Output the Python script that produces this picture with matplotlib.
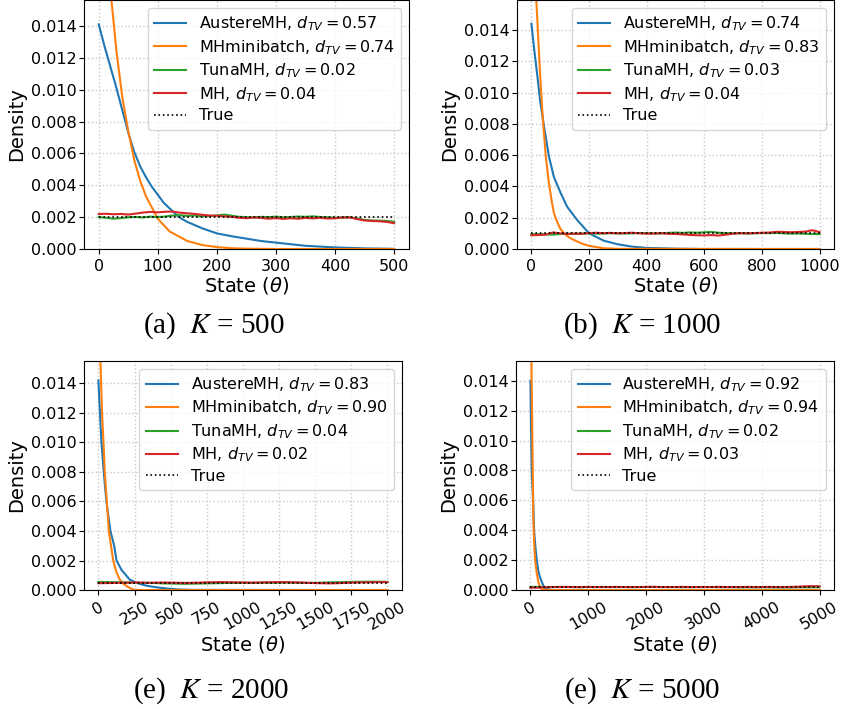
import matplotlib.pyplot as plt
import numpy as np

# method names and d_TV values for each panel
methods = ['AustereMH', 'MHminibatch', 'TunaMH', 'MH']
dtv_a = [0.57, 0.74, 0.02, 0.04]
dtv_b = [0.74, 0.83, 0.03, 0.04]
dtv_c = [0.83, 0.90, 0.04, 0.02]
dtv_d = [0.92, 0.94, 0.02, 0.03]
K_values = [500, 1000, 2000, 5000]
captions = ['(a)', '(b)', '(e)', '(e)']

# ---- K = 500 ----
austere_a_x = [0, 10, 20, 30, 40, 50, 60, 70, 80, 90, 100, 110, 120, 130, 140, 150, 175, 200,
               225, 250, 275, 300, 325, 350, 375, 400, 450, 500]
austere_a_y = [0.0141, 0.0127, 0.0114, 0.0101, 0.0087, 0.0073, 0.0061, 0.0052, 0.0045, 0.0039,
               0.0034, 0.0029, 0.00255, 0.0022, 0.0019, 0.0017, 0.0013, 0.00098, 0.0008, 0.00065,
               0.0005, 0.0004, 0.0003, 0.0002, 0.00015, 0.0001, 0.00004, 0.00001]
mhmini_a_x = [0, 10, 20, 30, 40, 50, 60, 70, 80, 90, 100, 110, 120, 130, 140, 150, 175, 200,
              225, 250, 300, 500]
mhmini_a_y = [0.026, 0.0205, 0.0162, 0.0124, 0.0095, 0.0074, 0.0056, 0.0043, 0.0033, 0.0026,
              0.0019, 0.0015, 0.0011, 0.0009, 0.0007, 0.0005, 0.00025, 0.00012, 0.00005, 0.00002,
              0.0, 0.0]
tuna_a = [20.0, 19.6, 19.0, 19.4, 19.9, 20.1, 19.8, 20.3, 20.0, 20.4, 21.0, 21.2, 20.8, 21.0,
          20.5, 20.6, 21.1, 21.6, 20.9, 20.2, 20.0, 19.8, 20.2, 20.0, 20.3, 19.9, 20.1, 20.4,
          20.2, 20.5, 20.1, 19.9, 19.6, 19.8, 19.9, 19.2, 18.2, 17.9, 17.8, 17.6, 17.1]
mh_a = [22.0, 22.1, 21.8, 22.0, 21.6, 22.2, 22.9, 23.3, 23.0, 23.4, 23.5, 22.8, 22.4, 22.0,
        21.5, 21.0, 20.9, 20.5, 20.2, 19.6, 19.3, 19.8, 19.5, 19.0, 19.4, 18.9, 19.3, 19.0,
        19.5, 19.2, 19.6, 19.1, 19.3, 19.7, 19.8, 18.8, 17.9, 17.6, 17.4, 17.0, 16.2]

# ---- K = 1000 ----
austere_b_x = [0, 10, 21, 30, 44, 61, 78, 101, 124, 159, 200, 251, 300, 350, 400, 500, 600, 1000]
austere_b_y = [0.0144, 0.0127, 0.0110, 0.0095, 0.0078, 0.0059, 0.0046, 0.0036, 0.0027, 0.00185,
               0.0010, 0.00053, 0.0003, 0.00015, 0.00007, 0.00002, 0.0, 0.0]
mhmini_b_x = [0, 10, 17, 30, 40, 50, 60, 70, 78, 90, 100, 113, 130, 147, 175, 200, 250, 300, 1000]
mhmini_b_y = [0.027, 0.0205, 0.0159, 0.0112, 0.0082, 0.0059, 0.0043, 0.0031, 0.0023, 0.0017,
              0.0013, 0.0010, 0.00075, 0.00058, 0.00035, 0.0002, 0.00005, 0.00001, 0.0]
tuna_b = [9.4, 9.5, 9.3, 9.2, 9.6, 9.8, 9.7, 9.9, 10.0, 9.8, 9.9, 10.1, 10.0, 9.9, 10.0, 10.2,
          10.1, 9.9, 10.0, 10.3, 10.5, 10.3, 10.6, 10.4, 10.7, 10.9, 10.4, 10.2, 10.0, 10.1,
          9.9, 10.0, 10.2, 10.1, 10.3, 10.0, 9.8, 9.9, 9.7, 9.6, 9.5]
mh_b = [8.8, 8.9, 9.2, 10.6, 10.0, 9.6, 9.8, 9.7, 10.2, 10.4, 10.1, 10.3, 10.0, 10.2, 10.4,
        10.0, 9.8, 9.9, 10.1, 9.7, 9.6, 9.3, 9.0, 8.8, 8.7, 8.9, 8.6, 9.2, 9.8, 10.1, 10.0,
        10.2, 10.4, 10.5, 11.0, 10.9, 10.7, 10.9, 11.1, 12.0, 10.8]

# ---- K = 2000 ----
austere_c_x = [0, 10, 21, 37, 55, 83, 109, 125, 160, 217, 275, 330, 390, 472, 550, 650, 2000]
austere_c_y = [0.0142, 0.0121, 0.0100, 0.0080, 0.0060, 0.0040, 0.0030, 0.0020, 0.00136, 0.0007,
               0.00045, 0.0003, 0.0002, 0.0001, 0.00004, 0.00001, 0.0]
mhmini_c_x = [0, 14, 25, 35, 44, 58, 72, 87, 102, 125, 148, 175, 206, 230, 250, 300, 2000]
mhmini_c_y = [0.024, 0.0155, 0.0120, 0.0100, 0.0080, 0.0060, 0.0040, 0.0030, 0.0020, 0.0012,
              0.0007, 0.0004, 0.0002, 0.00008, 0.00002, 0.0, 0.0]
tuna_c = [55, 54, 53, 52, 51, 50, 49, 48, 47, 45, 44, 43, 42, 43, 44, 45, 46, 47, 48, 48, 49,
          48, 49, 50, 49, 50, 51, 50, 49, 48, 49, 50, 52, 53, 54, 55, 56, 56, 57, 56, 55]
mh_c = [46, 47, 48, 49, 50, 51, 50, 49, 50, 51, 50, 49, 48, 49, 50, 52, 53, 54, 53, 52, 51,
        50, 51, 52, 53, 54, 53, 52, 51, 49, 47, 46, 45, 46, 48, 50, 51, 52, 53, 54, 53]

# ---- K = 5000 ----
austere_d_x = [0, 10, 22, 45, 63, 85, 109, 135, 161, 200, 236, 300, 400, 5000]
austere_d_y = [0.0140, 0.0110, 0.0080, 0.0060, 0.0040, 0.0029, 0.0020, 0.0013, 0.0009, 0.0005,
               0.0002, 0.00003, 0.0, 0.0]
mhmini_d_x = [0, 17, 30, 45, 52, 65, 80, 110, 138, 170, 195, 250, 5000]
mhmini_d_y = [0.024, 0.0153, 0.0110, 0.0065, 0.0045, 0.0030, 0.0020, 0.0011, 0.0005, 0.0002,
              0.00005, 0.0, 0.0]
tuna_d = [21, 21, 20, 20, 21, 20, 20, 19, 20, 20, 21, 20, 20, 20, 19, 20, 20, 21, 20, 20, 20,
          19, 19, 20, 20, 20, 19, 19, 19, 18, 18, 18, 18, 18, 17, 17, 17, 18, 18, 18, 18]
mh_d = [15, 16, 18, 20, 20, 21, 20, 20, 21, 20, 20, 20, 21, 20, 20, 20, 21, 21, 20, 20, 20,
        21, 20, 20, 20, 20, 21, 20, 20, 20, 21, 20, 20, 21, 20, 20, 21, 22, 25, 26, 25]

panels = [
    dict(ax=[0.0996, 0.6488, 0.3855, 0.3512], ytop=0.01563, K=K_values[0], dtv=dtv_a,
         austere=(austere_a_x, austere_a_y), mhmini=(mhmini_a_x, mhmini_a_y),
         tuna=np.array(tuna_a) * 1e-4, mh=np.array(mh_a) * 1e-4,
         xticks=None, rot=0, cap=captions[0], capxy=(0.254, 0.540)),
    dict(ax=[0.6133, 0.6488, 0.3760, 0.3512], ytop=0.01592, K=K_values[1], dtv=dtv_b,
         austere=(austere_b_x, austere_b_y), mhmini=(mhmini_b_x, mhmini_b_y),
         tuna=np.array(tuna_b) * 1e-4, mh=np.array(mh_b) * 1e-4,
         xticks=None, rot=0, cap=captions[1], capxy=(0.762, 0.540)),
    dict(ax=[0.0996, 0.1678, 0.3772, 0.3234], ytop=0.01553, K=K_values[2], dtv=dtv_c,
         austere=(austere_c_x, austere_c_y), mhmini=(mhmini_c_x, mhmini_c_y),
         tuna=np.array(tuna_c) * 1e-5, mh=np.array(mh_c) * 1e-5,
         xticks=np.arange(0, 2001, 250), rot=30, cap=captions[2], capxy=(0.250, 0.026)),
    dict(ax=[0.6121, 0.1678, 0.3772, 0.3234], ytop=0.01534, K=K_values[3], dtv=dtv_d,
         austere=(austere_d_x, austere_d_y), mhmini=(mhmini_d_x, mhmini_d_y),
         tuna=np.array(tuna_d) * 1e-5, mh=np.array(mh_d) * 1e-5,
         xticks=np.arange(0, 5001, 1000), rot=30, cap=captions[3], capxy=(0.762, 0.026)),
]

yticks = [0.0, 0.002, 0.004, 0.006, 0.008, 0.010, 0.012, 0.014]

fig = plt.figure(figsize=(8.43, 7.09), dpi=100)

for p in panels:
    ax = fig.add_axes(p['ax'])
    K = p['K']
    xs = np.linspace(0, K, len(p['tuna']))
    labels = [m + ', $d_{TV} = %.2f$' % d for m, d in zip(methods, p['dtv'])]
    ax.plot(p['austere'][0], p['austere'][1], color='C0', lw=1.5, label=labels[0])
    ax.plot(p['mhmini'][0], p['mhmini'][1], color='C1', lw=1.5, label=labels[1])
    ax.plot(xs, p['tuna'], color='C2', lw=1.5, label=labels[2])
    ax.plot(xs, p['mh'], color='C3', lw=1.5, label=labels[3])
    ax.plot([0, K], [1.0 / K, 1.0 / K], color='black', ls=':', lw=1.2, label='True')

    ax.set_ylim(0, p['ytop'])
    ax.set_yticks(yticks)
    ax.set_yticklabels(['%.3f' % v for v in yticks])
    if p['xticks'] is not None:
        ax.set_xticks(p['xticks'])
    ax.tick_params(labelsize=11.5)
    ax.tick_params(axis='y', pad=2)
    if p['rot']:
        plt.setp(ax.get_xticklabels(), rotation=p['rot'])
    ax.grid(which='major', color='#c8c8c8', linestyle=':', linewidth=1)
    ax.set_axisbelow(True)
    ax.set_xlabel(r'State ($\theta$)', fontsize=14, labelpad=1)
    ax.set_ylabel('Density', fontsize=14, labelpad=3)
    ax.legend(loc='upper right', fontsize=11.5, labelspacing=0.3)

    fig.text(p['capxy'][0], p['capxy'][1], p['cap'] + '  $K$ = %d' % K,
             ha='center', va='center', fontsize=21, family='Liberation Serif',
             math_fontfamily='stix')

fig.savefig('out.png', dpi=100)
